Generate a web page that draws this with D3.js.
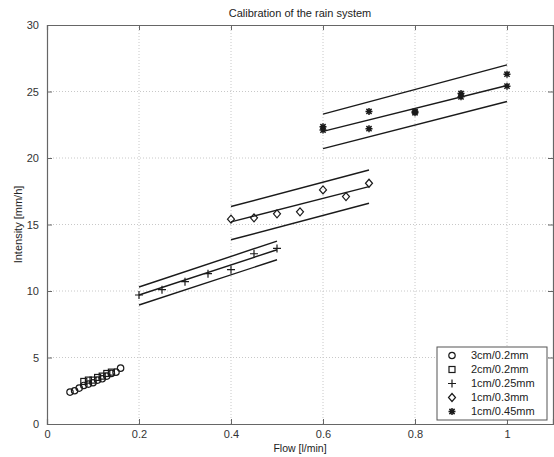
<!DOCTYPE html>
<html>
<head>
<meta charset="utf-8">
<script src="https://cdn.jsdelivr.net/npm/d3@7"></script>
<style>
  body { margin: 0; background: #fff; }
  svg { font-family: "Liberation Sans", Arial, sans-serif; }
</style>
</head>
<body>
<div id="chart"></div>
<script>
let width = 554;
let height = 457;

// measured points
let flow3cm02 = [0.05, 0.06, 0.07, 0.08, 0.09, 0.10, 0.11, 0.12, 0.13, 0.14, 0.15, 0.16];
let int3cm02 = [2.4, 2.5, 2.7, 2.9, 3.0, 3.1, 3.3, 3.4, 3.6, 3.8, 3.9, 4.2];
let flow2cm02 = [0.08, 0.09, 0.10, 0.11, 0.12, 0.13, 0.14];
let int2cm02 = [3.2, 3.3, 3.3, 3.5, 3.6, 3.8, 3.9];
let flow1cm025 = [0.2, 0.25, 0.3, 0.35, 0.4, 0.45, 0.5];
let int1cm025 = [9.7, 10.1, 10.7, 11.3, 11.6, 12.8, 13.2];
let flow1cm03 = [0.4, 0.45, 0.5, 0.55, 0.6, 0.65, 0.7];
let int1cm03 = [15.4, 15.5, 15.8, 15.95, 17.6, 17.1, 18.1];
let flow1cm045 = [0.6, 0.6, 0.7, 0.7, 0.8, 0.8, 0.9, 0.9, 1.0, 1.0];
let int1cm045 = [22.35, 22.1, 23.5, 22.2, 23.4, 23.5, 24.85, 24.6, 25.4, 26.3];

// fitted lines with upper / lower bands (start, end)
let fitFlow025 = [0.2, 0.5];
let fitMid025 = [9.7, 13.1];
let fitHi025 = [10.3, 13.75];
let fitLo025 = [8.95, 12.35];
let fitFlow03 = [0.4, 0.7];
let fitMid03 = [15.2, 17.85];
let fitHi03 = [16.35, 19.1];
let fitLo03 = [13.85, 16.6];
let fitFlow045 = [0.6, 1.0];
let fitMid045 = [22.0, 25.45];
let fitHi045 = [23.3, 27.0];
let fitLo045 = [20.7, 24.25];

let legendLabels = ['3cm/0.2mm', '2cm/0.2mm', '1cm/0.25mm', '1cm/0.3mm', '1cm/0.45mm'];
let legendMarkers = ['circle', 'square', 'plus', 'diamond', 'star'];

let xTicks = [0, 0.2, 0.4, 0.6, 0.8, 1];
let yTicks = [0, 5, 10, 15, 20, 25, 30];

let margin = {left: 47, right: 1, top: 25, bottom: 33};

let x = d3.scaleLinear().domain([0, 1.1]).range([margin.left, width - margin.right]);
let y = d3.scaleLinear().domain([0, 30]).range([height - margin.bottom, margin.top]);

let svg = d3.select('#chart').append('svg')
    .attr('width', width).attr('height', height);

let ink = '#1a1a1a';

// grid
let grid = svg.append('g').attr('stroke', '#c8c8c8').attr('stroke-dasharray', '1,2').attr('stroke-width', 1);
for (let t of xTicks.slice(1)) {
    grid.append('line').attr('x1', x(t)).attr('x2', x(t)).attr('y1', y(0)).attr('y2', y(30));
}
for (let t of yTicks.slice(1, -1)) {
    grid.append('line').attr('x1', x(0)).attr('x2', x(1.1)).attr('y1', y(t)).attr('y2', y(t));
}

// axes, ticks pointing inwards like matlab
let axisColor = '#666';
let xAxis = svg.append('g').attr('transform', `translate(0,${y(0)})`)
    .call(d3.axisBottom(x).tickValues(xTicks).tickSize(-5).tickPadding(6).tickFormat(d3.format('')));
let xAxisTop = svg.append('g').attr('transform', `translate(0,${y(30)})`)
    .call(d3.axisTop(x).tickValues(xTicks).tickSize(-5).tickFormat(''));
let yAxis = svg.append('g').attr('transform', `translate(${x(0)},0)`)
    .call(d3.axisLeft(y).tickValues(yTicks).tickSize(-5).tickPadding(8));
let yAxisRight = svg.append('g').attr('transform', `translate(${x(1.1)},0)`)
    .call(d3.axisRight(y).tickValues(yTicks).tickSize(-5).tickFormat(''));
for (let a of [xAxis, xAxisTop, yAxis, yAxisRight]) {
    a.selectAll('path, line').attr('stroke', axisColor);
    a.selectAll('text').attr('fill', '#333').style('font-size', '11px');
    a.select('.domain').attr('stroke-width', 1.2);
}

// fitted lines
let line = d3.line().x(d => x(d[0])).y(d => y(d[1]));
let fits = [
    [fitFlow025, fitMid025], [fitFlow025, fitHi025], [fitFlow025, fitLo025],
    [fitFlow03, fitMid03], [fitFlow03, fitHi03], [fitFlow03, fitLo03],
    [fitFlow045, fitMid045], [fitFlow045, fitHi045], [fitFlow045, fitLo045],
];
let gFit = svg.append('g');
for (let [fx, fy] of fits) {
    gFit.append('path')
        .attr('d', line(fx.map((v, i) => [v, fy[i]])))
        .attr('fill', 'none')
        .attr('stroke', ink)
        .attr('stroke-width', 1.4);
}

// markers
function marker(g, kind, cx, cy) {
    let m = g.append('g').attr('transform', `translate(${cx},${cy})`)
        .attr('fill', 'none').attr('stroke', ink).attr('stroke-width', 1.2);
    if (kind == 'circle') {
        m.append('circle').attr('r', 3.2);
    } else if (kind == 'square') {
        m.append('rect').attr('x', -3).attr('y', -3).attr('width', 6).attr('height', 6);
    } else if (kind == 'plus') {
        m.append('path').attr('d', 'M-4,0H4M0,-4V4');
    } else if (kind == 'diamond') {
        m.append('path').attr('d', 'M0,-4L3.5,0L0,4L-3.5,0Z');
    } else if (kind == 'star') {
        m.attr('stroke-width', 1.5);
        m.append('path').attr('d', 'M-3.5,0H3.5M0,-3.5V3.5M-2.6,-2.6L2.6,2.6M-2.6,2.6L2.6,-2.6');
    }
    return m;
}

let series = [
    [flow3cm02, int3cm02, 'circle'],
    [flow2cm02, int2cm02, 'square'],
    [flow1cm025, int1cm025, 'plus'],
    [flow1cm03, int1cm03, 'diamond'],
    [flow1cm045, int1cm045, 'star'],
];
let gPts = svg.append('g');
for (let [fx, fy, kind] of series) {
    fx.forEach((v, i) => marker(gPts, kind, x(v), y(fy[i])));
}

// legend
let legend = svg.append('g').attr('transform', 'translate(437,347)');
legend.append('rect').attr('width', 110).attr('height', 73)
    .attr('fill', '#fff').attr('stroke', '#555').attr('stroke-width', 1);
legendLabels.forEach((lab, i) => {
    let ly = 8.5 + i * 14;
    marker(legend, legendMarkers[i], 15, ly);
    legend.append('text').attr('x', 34).attr('y', ly).attr('dy', '0.35em')
        .style('font-size', '11px').attr('fill', '#222').text(lab);
});

// titles
svg.append('text').attr('x', (x(0) + x(1.1)) / 2).attr('y', 17)
    .attr('text-anchor', 'middle').style('font-size', '11px').attr('fill', '#222')
    .text('Calibration of the rain system');
svg.append('text').attr('x', (x(0) + x(1.1)) / 2).attr('y', 452)
    .attr('text-anchor', 'middle').style('font-size', '10.5px').attr('fill', '#222')
    .text('Flow [l/min]');
svg.append('text').attr('transform', `translate(22,${(y(0) + y(30)) / 2}) rotate(-90)`)
    .attr('text-anchor', 'middle').style('font-size', '11px').attr('fill', '#222')
    .text('Intensity [mm/h]');
</script>
</body>
</html>
